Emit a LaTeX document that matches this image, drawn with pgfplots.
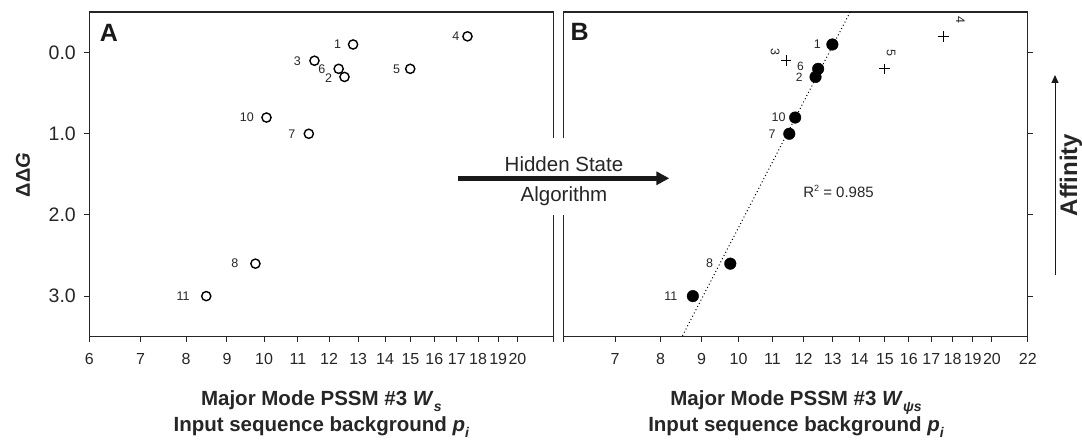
\documentclass[border=0pt]{standalone}
\usepackage{pgfplots}
\pgfplotsset{compat=1.18}
\usepackage{fontspec}
\setmainfont{Liberation Sans}
\usetikzlibrary{arrows.meta}
\newcommand{\fs}[1]{\fontsize{#1}{#1}\selectfont}
\tikzset{lab/.style={font=\fs{12.5}, inner sep=0pt, anchor=center, text=black!85}}
\begin{document}
\begin{tikzpicture}
\useasboundingbox (0pt,0pt) rectangle (1082pt,440pt);
\pgfplotsset{
  panel/.style={
    scale only axis, width=464pt, height=324.7pt,
    anchor=south west,
    xmin=6, xmax=22, ymin=-0.5, ymax=3.5, y dir=reverse,
    x coord trafo/.code={\pgfmathparse{ln(##1+1.3)}},
    x coord inv trafo/.code={\pgfmathparse{exp(##1)-1.3}},
    xtick={6,7,8,9,10,11,12,13,14,15,16,17,18,19,20,22},
    ytick={0,1,2,3},
    tick align=outside, major tick length=5pt,
    xtick pos=left,
    axis line style={black!85, line width=1.1pt},
    major tick style={black!85, line width=1pt},
    xticklabel style={font=\fs{16}, text=black!85, yshift=-8pt},
    yticklabel style={font=\fs{19.5}, text=black!85, xshift=-5pt},
  },
}
% ---------------- Panel A ----------------
\begin{axis}[panel, at={(89.3pt,103.3pt)}, ytick pos=left,
  xticklabels={6,7,8,9,10,11,12,13,14,15,16,17,18,19,20,{}},
  yticklabels={0.0,1.0,2.0,3.0}]
\addplot[only marks, mark=o, mark size=4.6pt, mark options={line width=1.4pt, draw=black}] table {
x y
12.82 -0.1
12.52 0.3
11.52 0.1
17.50 -0.2
14.99 0.2
12.32 0.2
11.34 1.0
9.76 2.6
10.07 0.8
8.48 3.0
};
\node[lab, xshift=-15.5pt] at (axis cs:12.82,-0.1) {1};
\node[lab, xshift=-16pt, yshift=-1pt] at (axis cs:12.52,0.3) {2};
\node[lab, xshift=-17pt] at (axis cs:11.52,0.1) {3};
\node[lab, xshift=-11.7pt] at (axis cs:17.50,-0.2) {4};
\node[lab, xshift=-13.7pt] at (axis cs:14.99,0.2) {5};
\node[lab, xshift=-16.7pt] at (axis cs:12.32,0.2) {6};
\node[lab, xshift=-17pt] at (axis cs:11.34,1.0) {7};
\node[lab, xshift=-20.7pt] at (axis cs:9.76,2.6) {8};
\node[lab, xshift=-19.6pt] at (axis cs:10.07,0.8) {10};
\node[lab, xshift=-23.2pt] at (axis cs:8.48,3.0) {11};
\end{axis}
% ---------------- Panel B ----------------
\begin{axis}[panel, at={(563.8pt,103.3pt)}, ytick pos=right, yticklabels={},
  xticklabels={{},7,8,9,10,11,12,13,14,15,16,17,18,19,20,22}]
\addplot[black, line width=1pt, dash pattern=on 1pt off 2.6pt] coordinates {(13.64,-0.5) (8.51,3.5)};
\addplot[only marks, mark=*, mark size=5.8pt, mark options={draw=black, fill=black}] table {
x y
12.99 -0.1
12.40 0.3
12.49 0.2
11.53 1.0
9.77 2.6
11.72 0.8
8.78 3.0
};
\addplot[only marks, mark=+, mark size=5.3pt, mark options={line width=1pt, draw=black}] table {
x y
11.43 0.1
17.58 -0.2
14.98 0.2
};
\node[lab, xshift=-15pt] at (axis cs:12.99,-0.1) {1};
\node[lab, font=\fs{12}, xshift=-16.3pt, yshift=-0.3pt] at (axis cs:12.40,0.3) {2};
\node[lab, font=\fs{12}, xshift=-17.7pt, yshift=2.2pt] at (axis cs:12.49,0.2) {6};
\node[lab, xshift=-17.3pt] at (axis cs:11.53,1.0) {7};
\node[lab, xshift=-20.7pt] at (axis cs:9.77,2.6) {8};
\node[lab, xshift=-16.5pt] at (axis cs:11.72,0.8) {10};
\node[lab, xshift=-22pt] at (axis cs:8.78,3.0) {11};
\node[lab, xshift=-11pt, yshift=8.3pt, rotate=-90] at (axis cs:11.43,0.1) {3};
\node[lab, xshift=16.7pt, yshift=16pt, rotate=-90] at (axis cs:17.58,-0.2) {4};
\node[lab, xshift=6.7pt, yshift=16.3pt, rotate=-90] at (axis cs:14.98,0.2) {5};
\node[font=\fs{15}, text=black!85] at (axis cs:13.21,1.71) {R\raisebox{0.45em}{\fs{9}2} = 0.985};
\end{axis}
% ---------------- Annotations ----------------
\fill[white] (547pt,225.5pt) rectangle (571pt,301.5pt);
\draw[black!90, line width=4.5pt, -{Triangle[length=13pt,width=13pt]}] (458.3pt,261.7pt) -- (669.3pt,261.7pt);
\node[anchor=base, font=\fs{20.5}, text=black!85] at (564pt,268.3pt) {Hidden State};
\node[anchor=base, font=\fs{20.5}, text=black!85] at (564pt,238.3pt) {Algorithm};
\draw[black!90, line width=1pt, -{Triangle[length=8pt,width=7pt]}] (1055pt,165pt) -- (1055pt,365pt);
\node[rotate=90, font=\fs{24}\bfseries, text=black!85] at (1071pt,265pt) {Affinity};
\node[rotate=90, font=\fs{20}\bfseries, text=black!85] at (23pt,265pt) {ΔΔ\textit{G}};
\node[font=\fs{25}\bfseries, text=black!90] at (109pt,407pt) {A};
\node[font=\fs{25}\bfseries, text=black!90] at (579.7pt,408pt) {B};
\node[anchor=base, font=\fs{20.5}\bfseries, text=black!85] at (321.3pt,35pt) {Major Mode PSSM \#3 \textit{W}\raisebox{-0.3em}{\fs{14}\itshape s}};
\node[anchor=base, font=\fs{20.5}\bfseries, text=black!85] at (321.3pt,9pt) {Input sequence background \textit{p}\raisebox{-0.3em}{\fs{14}\itshape i}};
\node[anchor=base, font=\fs{20.5}\bfseries, text=black!85] at (796pt,35pt) {Major Mode PSSM \#3 \textit{W}\raisebox{-0.3em}{\fs{14}\itshape ψs}};
\node[anchor=base, font=\fs{20.5}\bfseries, text=black!85] at (796pt,9pt) {Input sequence background \textit{p}\raisebox{-0.3em}{\fs{14}\itshape i}};
\end{tikzpicture}
\end{document}
